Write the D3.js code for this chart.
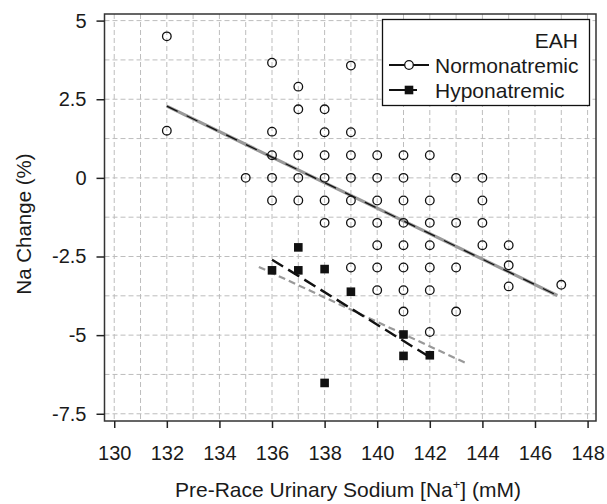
<!DOCTYPE html>
<html lang="en">
<head>
    <meta charset="UTF-8">
    <title>Na Change vs Pre-Race Urinary Sodium</title>
    <script src="https://d3js.org/d3.v7.min.js"></script>
    <style>
        body{ margin: 0; background: #fff; }
        text{ font-family: "Liberation Sans", Arial, sans-serif; fill: #1a1a1a; }
        g.axis{ font-size: 20px; }
        g.axis path, g.axis line{ stroke: #222; stroke-width: 1.5px; }
        .grid line{ stroke: #bdbdbd; stroke-width: 1px; stroke-dasharray: 5,3; }
    </style>
</head>
<body>
<svg width="607" height="504"></svg>
<script>
    // data
    let normonatremic = [
        [132, 4.5], [132, 1.5],
        [135, 0],
        [136, 3.66], [136, 1.47], [136, 0.72], [136, 0], [136, -0.72],
        [137, 2.9], [137, 2.18], [137, 0.72], [137, 0], [137, -0.72],
        [138, 2.18], [138, 1.45], [138, 0.72], [138, 0], [138, -0.72], [138, -1.43],
        [139, 3.57], [139, 1.45], [139, 0.72], [139, 0], [139, -0.72], [139, -1.43], [139, -2.85],
        [140, 0.72], [140, 0], [140, -0.72], [140, -1.43], [140, -2.14], [140, -2.85], [140, -3.57],
        [141, 0.72], [141, 0], [141, -0.72], [141, -1.43], [141, -2.14], [141, -2.85], [141, -3.57], [141, -4.25],
        [142, 0.72], [142, -0.72], [142, -1.43], [142, -2.14], [142, -2.85], [142, -3.57], [142, -4.9],
        [143, 0], [143, -1.43], [143, -2.85], [143, -4.25],
        [144, 0], [144, -0.72], [144, -1.43], [144, -2.14],
        [145, -2.14], [145, -2.78], [145, -3.45],
        [147, -3.4]
    ];
    let hyponatremic = [
        [136, -2.94], [137, -2.21], [137, -2.94], [138, -2.9], [139, -3.62],
        [141, -4.98], [141, -5.66], [142, -5.64], [138, -6.52]
    ];
    // fitted lines (end points)
    let normoFit = [[132, 2.28], [146.85, -3.74]];
    let hypoFit = [[136, -2.6], [141.9, -5.65]];
    let pooledFit = [[135.5, -2.83], [143.4, -5.9]];

    let xTicks = [130, 132, 134, 136, 138, 140, 142, 144, 146, 148];
    let yTicks = [-7.5, -5, -2.5, 0, 2.5, 5];
    let yTickLabels = ["-7.5", "-5", "-2.5", "0", "2.5", "5"];
    let legendTitle = "EAH";
    let groups = ["Normonatremic", "Hyponatremic"];

    let svg = d3.select('svg');
    const width = 607;
    const height = 504;
    const margin = {left: 104.5, right: 11, top: 14, bottom: 83};

    let xScale = d3.scaleLinear()
        .domain([129.63, 148.32])
        .range([margin.left, width - margin.right]);
    let yScale = d3.scaleLinear()
        .domain([-7.73, 5.21])
        .range([height - margin.bottom, margin.top]);

    // grid
    let grid = svg.append("g").attr("class", "grid");
    grid.selectAll("line.gx")
        .data(d3.range(130, 148.5, 1))
        .enter().append("line")
        .attr("x1", d => xScale(d)).attr("x2", d => xScale(d))
        .attr("y1", margin.top).attr("y2", height - margin.bottom);
    grid.selectAll("line.gy")
        .data(d3.range(-7.5, 5.1, 1.25))
        .enter().append("line")
        .attr("y1", d => yScale(d)).attr("y2", d => yScale(d))
        .attr("x1", margin.left).attr("x2", width - margin.right);

    // frame
    svg.append("rect")
        .attr("x", margin.left).attr("y", margin.top)
        .attr("width", width - margin.left - margin.right)
        .attr("height", height - margin.top - margin.bottom)
        .attr("fill", "none")
        .attr("stroke", "#333")
        .attr("stroke-width", 1.5);

    // axes
    let ya = svg.append("g")
        .attr("class", "axis")
        .attr("transform", `translate(${margin.left},0)`)
        .call(d3.axisLeft(yScale).tickValues(yTicks)
            .tickFormat((d, i) => yTickLabels[i])
            .tickSize(8).tickPadding(10).tickSizeOuter(0));
    ya.select(".domain").remove();

    let xa = svg.append("g")
        .attr("class", "axis")
        .attr("transform", `translate(0,${height - margin.bottom})`)
        .call(d3.axisBottom(xScale).tickValues(xTicks)
            .tickFormat(d => String(d))
            .tickSize(7).tickPadding(18).tickSizeOuter(0));
    xa.select(".domain").remove();

    // axis titles
    let xt = svg.append("text")
        .attr("x", 348).attr("y", 497)
        .attr("text-anchor", "middle")
        .attr("font-size", "21px");
    xt.append("tspan").text("Pre-Race Urinary Sodium [Na");
    xt.append("tspan").attr("dy", -8).attr("font-size", "13px").text("+");
    xt.append("tspan").attr("dy", 8).text("] (mM)");

    svg.append("text")
        .attr("transform", "translate(31,224) rotate(-90)")
        .attr("text-anchor", "middle")
        .attr("font-size", "20.5px")
        .text("Na Change (%)");

    // fit lines
    let line = d3.line().x(d => xScale(d[0])).y(d => yScale(d[1]));
    svg.append("path").attr("d", line(normoFit))
        .attr("stroke", "#999").attr("stroke-width", 3.2).attr("fill", "none");
    svg.append("path").attr("d", line(normoFit))
        .attr("stroke", "#111").attr("stroke-width", 1.3).attr("fill", "none")
        .attr("stroke-dasharray", "12,10");
    svg.append("path").attr("d", line(pooledFit))
        .attr("stroke", "#999").attr("stroke-width", 2.2).attr("fill", "none")
        .attr("stroke-dasharray", "7,4");
    svg.append("path").attr("d", line(hypoFit))
        .attr("stroke", "#111").attr("stroke-width", 2.4).attr("fill", "none")
        .attr("stroke-dasharray", "13,6");

    // points
    svg.append("g").selectAll("circle")
        .data(normonatremic)
        .enter().append("circle")
        .attr("cx", d => xScale(d[0]))
        .attr("cy", d => yScale(d[1]))
        .attr("r", 4.3)
        .attr("fill", "none")
        .attr("stroke", "#111")
        .attr("stroke-width", 1.3);

    svg.append("g").selectAll("rect")
        .data(hyponatremic)
        .enter().append("rect")
        .attr("x", d => xScale(d[0]) - 4.3)
        .attr("y", d => yScale(d[1]) - 4.3)
        .attr("width", 8.6).attr("height", 8.6)
        .attr("fill", "#111");

    // legend
    let lg = svg.append("g");
    lg.append("rect")
        .attr("x", 382.5).attr("y", 19.5)
        .attr("width", 207).attr("height", 86)
        .attr("fill", "#fff")
        .attr("stroke", "#111").attr("stroke-width", 1.3);
    lg.append("text")
        .attr("x", 578).attr("y", 47.5)
        .attr("text-anchor", "end")
        .attr("font-size", "21px")
        .text(legendTitle);
    let rows = [65, 90];
    groups.forEach((g, i) => {
        lg.append("line")
            .attr("x1", 389).attr("x2", 429)
            .attr("y1", rows[i]).attr("y2", rows[i])
            .attr("stroke", "#111").attr("stroke-width", 2.2)
            .attr("stroke-dasharray", i === 0 ? null : "16,4,8");
        if (i === 0) {
            lg.append("circle").attr("cx", 409).attr("cy", rows[i]).attr("r", 4.3)
                .attr("fill", "#fff").attr("stroke", "#111").attr("stroke-width", 1.3);
        } else {
            lg.append("rect").attr("x", 404.7).attr("y", rows[i] - 4.3)
                .attr("width", 8.6).attr("height", 8.6).attr("fill", "#111");
        }
        lg.append("text")
            .attr("x", 435).attr("y", rows[i] + 7.5)
            .attr("font-size", "21px")
            .text(g);
    });
</script>
</body>
</html>
